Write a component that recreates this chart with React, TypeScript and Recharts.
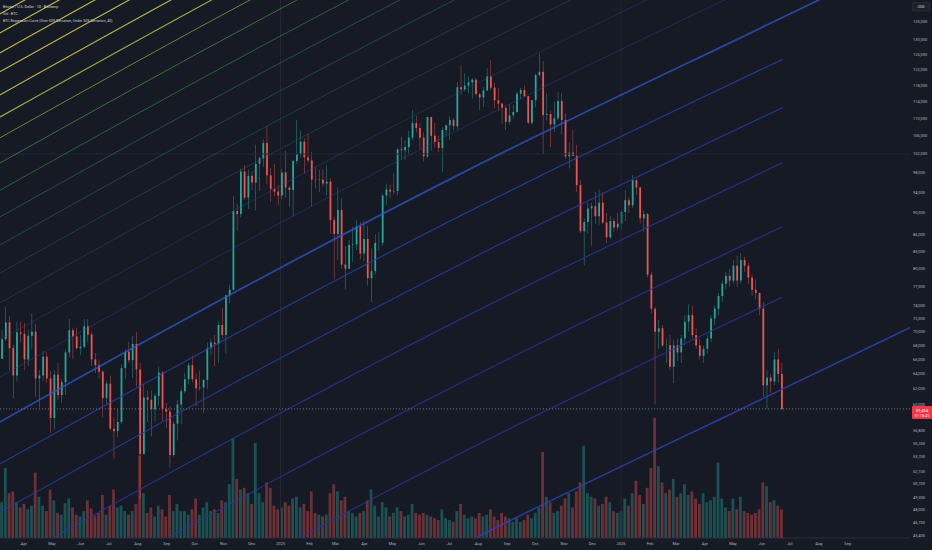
import React from "react";
import { ComposedChart, Bar, Line, XAxis, YAxis, Cell, ReferenceLine } from "recharts";

document.body.style.margin = "0";
document.body.style.background = "#161a25";

// BTC/USD (Bitstamp) grouped in 4-day candles, prices in thousand USD
const candleStart = "2024-03-03";
const candleStep = 4;
const firstOpen = 62.0;

const highs = [
  69.2, 70.2, 73.8, 72.4, 68.1, 71.5, 71.5, 71.3, 70.3, 72.8,
  71.2, 64.5, 67.2, 67.1, 64.4, 64.5, 65.5, 63.4, 67.4, 71.9,
  70.6, 70.6, 69.5, 71.9, 71.9, 70.0, 66.9, 66.0, 64.5, 63.0,
  63.8, 58.4, 59.4, 65.3, 67.5, 68.5, 69.4, 70.0, 65.5, 62.7,
  61.8, 61.8, 61.4, 65.0, 64.4, 60.2, 59.8, 57.9, 60.6, 62.0,
  64.1, 65.5, 66.5, 64.1, 64.5, 63.3, 68.4, 69.0, 69.5, 71.6,
  73.6, 75.6, 77.3, 93.3, 91.8, 98.9, 99.6, 98.7, 98.4, 104.0,
  101.4, 105.2, 108.3, 99.0, 99.9, 95.5, 98.8, 102.7, 95.3, 100.7,
  109.6, 107.2, 105.4, 106.4, 102.5, 99.2, 98.6, 98.8, 99.5, 96.9,
  89.3, 95.0, 92.8, 84.0, 85.0, 87.4, 88.7, 88.3, 88.5, 87.5,
  83.5, 86.1, 86.4, 93.8, 95.8, 95.6, 97.9, 103.2, 105.8, 105.0,
  107.1, 111.9, 110.6, 108.9, 106.8, 110.5, 110.4, 108.9, 106.0, 108.0,
  108.5, 110.5, 110.0, 118.8, 123.2, 121.0, 120.2, 119.8, 119.8, 116.1,
  117.6, 122.3, 124.4, 118.6, 117.4, 113.6, 112.6, 113.4, 113.2, 116.3,
  117.3, 117.9, 115.4, 114.4, 121.0, 126.2, 124.2, 116.0, 111.8, 114.0,
  116.3, 116.0, 111.2, 104.5, 107.4, 104.0, 96.5, 89.0, 92.0, 92.0,
  94.1, 94.6, 94.0, 90.0, 89.5, 89.0, 90.0, 90.5, 94.5, 93.0,
  97.5, 96.8, 95.2, 90.5, 90.0, 79.5, 73.8, 71.8, 71.0, 69.0,
  69.5, 68.8, 69.0, 69.5, 72.5, 74.2, 74.0, 70.5, 69.0, 68.0,
  69.5, 72.5, 74.0, 76.0, 78.0, 79.5, 80.0, 81.5, 82.2, 82.7,
  82.0, 81.0, 79.0, 78.2, 76.0, 74.5, 64.5, 64.0, 67.0, 67.5,
  65.5,
];

const lows = [
  59.2, 66.1, 68.6, 64.5, 60.8, 63.0, 68.4, 64.5, 65.1, 67.5,
  61.0, 59.6, 63.1, 62.8, 56.5, 56.9, 60.6, 60.2, 61.2, 66.3,
  66.1, 67.4, 66.6, 67.6, 68.5, 65.1, 64.1, 63.4, 58.4, 60.0,
  56.8, 53.5, 56.0, 57.6, 63.3, 65.5, 63.5, 62.3, 49.1, 54.0,
  57.8, 56.1, 57.9, 59.8, 57.9, 57.1, 52.5, 53.7, 55.6, 57.5,
  61.4, 62.6, 62.9, 59.8, 61.8, 58.9, 62.0, 66.6, 65.1, 65.5,
  69.0, 66.8, 74.4, 76.4, 86.7, 89.2, 92.6, 90.8, 94.5, 90.5,
  94.3, 99.3, 95.6, 92.2, 93.3, 91.5, 92.7, 93.0, 91.2, 89.3,
  99.9, 101.2, 97.8, 100.2, 91.2, 94.8, 94.1, 95.2, 93.4, 86.1,
  78.2, 81.5, 80.0, 76.6, 80.0, 81.2, 83.2, 81.6, 81.3, 77.2,
  74.5, 79.0, 83.1, 84.0, 91.6, 92.9, 93.7, 93.4, 100.8, 100.7,
  102.0, 105.0, 106.8, 103.1, 100.4, 101.1, 102.7, 103.4, 102.4, 98.2,
  106.1, 105.1, 107.2, 107.5, 115.7, 116.5, 116.0, 114.7, 115.5, 112.0,
  112.7, 116.5, 116.8, 112.4, 111.7, 108.7, 107.3, 108.6, 110.0, 111.2,
  114.5, 115.1, 108.7, 108.6, 112.6, 120.0, 102.0, 109.5, 103.5, 106.9,
  109.6, 106.3, 101.0, 98.9, 101.5, 94.1, 86.3, 80.6, 86.1, 84.0,
  88.0, 87.8, 88.0, 84.5, 85.2, 86.5, 86.8, 87.0, 88.5, 90.0,
  91.0, 93.5, 88.0, 86.5, 78.5, 72.8, 60.0, 67.5, 67.8, 65.5,
  64.5, 62.8, 65.8, 65.5, 68.0, 70.0, 69.0, 67.5, 66.0, 65.5,
  66.8, 68.5, 71.0, 72.5, 74.5, 76.5, 77.0, 77.5, 77.0, 77.5,
  79.5, 77.5, 75.5, 75.0, 72.5, 61.0, 59.4, 61.5, 62.5, 62.8,
  59.3,
];

const closes = [
  66.1, 68.9, 71.4, 67.6, 63.8, 69.9, 69.7, 66.0, 69.4, 70.0,
  63.4, 63.8, 66.4, 63.4, 58.3, 63.9, 61.2, 62.9, 67.0, 70.2,
  69.3, 67.6, 67.8, 70.8, 69.6, 66.0, 65.2, 64.3, 60.8, 62.7,
  57.0, 56.7, 57.8, 64.8, 67.1, 65.9, 68.2, 64.6, 54.0, 60.9,
  60.6, 59.4, 61.1, 64.2, 59.4, 59.1, 53.9, 57.6, 60.0, 61.7,
  63.3, 65.2, 63.3, 62.1, 62.2, 63.2, 67.6, 68.4, 68.2, 71.0,
  69.5, 75.6, 76.5, 90.4, 89.8, 98.3, 93.0, 97.4, 96.0, 99.9,
  101.1, 104.4, 97.5, 94.7, 94.2, 93.4, 98.1, 95.0, 94.5, 100.5,
  102.0, 104.7, 101.3, 100.6, 96.6, 96.5, 96.6, 95.8, 96.2, 88.7,
  86.1, 90.6, 80.7, 80.0, 84.1, 84.2, 87.5, 82.6, 85.2, 78.4,
  79.6, 84.5, 84.5, 93.4, 94.6, 94.2, 94.3, 103.0, 102.8, 103.5,
  105.6, 108.9, 107.8, 105.6, 101.5, 110.3, 106.0, 104.6, 103.3, 107.3,
  108.4, 109.6, 108.2, 117.5, 117.0, 117.9, 118.7, 119.4, 115.8, 115.0,
  116.7, 120.2, 117.4, 114.3, 113.5, 112.5, 109.2, 110.7, 111.5, 115.9,
  116.8, 115.3, 109.0, 114.3, 120.6, 121.4, 110.8, 111.0, 108.6, 110.0,
  114.1, 109.6, 101.5, 102.3, 101.6, 95.5, 86.6, 88.3, 90.9, 91.3,
  89.4, 92.0, 88.2, 85.5, 88.5, 87.3, 88.0, 90.2, 92.5, 91.5,
  96.5, 95.0, 89.0, 89.8, 79.0, 73.5, 70.0, 70.5, 68.0, 68.0,
  65.0, 68.0, 67.0, 69.0, 71.5, 72.5, 69.5, 68.0, 66.5, 67.5,
  69.0, 72.0, 73.5, 75.5, 77.5, 78.8, 78.0, 80.5, 78.0, 81.5,
  80.5, 78.5, 76.5, 76.0, 73.5, 62.5, 63.5, 63.0, 66.0, 64.0,
  59.434,
];

// thousand BTC per 4-day candle
const volumes = [
  6.1, 4.0, 7.8, 5.0, 5.2, 4.0, 3.4, 3.8, 3.2, 3.6,
  7.3, 4.6, 3.6, 3.0, 5.4, 4.2, 2.8, 2.6, 3.9, 4.4,
  3.4, 2.6, 2.4, 3.0, 4.2, 3.3, 2.5, 2.8, 4.8, 2.6,
  3.6, 5.4, 3.4, 3.6, 3.0, 2.6, 3.0, 3.8, 9.2, 5.0,
  2.8, 3.4, 2.4, 3.6, 3.2, 2.4, 4.8, 3.0, 3.8, 3.0,
  3.0, 2.6, 3.2, 4.4, 2.6, 3.4, 4.0, 3.0, 3.2, 2.8,
  4.2, 4.0, 6.0, 11.1, 6.6, 5.4, 5.6, 5.0, 3.8, 10.6,
  5.0, 4.0, 6.2, 5.6, 3.6, 3.2, 3.4, 4.0, 3.6, 4.4,
  4.6, 3.4, 3.8, 3.0, 5.2, 2.8, 2.6, 2.4, 2.6, 5.0,
  6.0, 5.2, 4.2, 4.6, 3.0, 2.8, 2.4, 2.8, 3.0, 4.2,
  5.4, 3.6, 2.4, 4.0, 3.4, 2.4, 2.8, 3.4, 3.0, 2.4,
  2.6, 3.8, 2.8, 2.6, 2.8, 2.6, 2.4, 2.2, 2.0, 3.2,
  2.2, 2.0, 1.8, 3.0, 3.8, 2.6, 2.2, 2.4, 2.2, 2.8,
  2.4, 2.6, 3.2, 2.4, 2.0, 2.8, 2.4, 2.2, 1.8, 2.2,
  1.8, 2.0, 2.6, 2.2, 2.8, 3.4, 9.6, 4.6, 4.0, 2.8,
  3.0, 3.6, 4.4, 5.0, 3.4, 5.2, 6.2, 10.3, 5.0, 4.6,
  4.4, 3.6, 3.8, 4.6, 4.0, 3.0, 2.8, 3.0, 4.4, 3.6,
  5.0, 6.4, 4.8, 3.8, 5.6, 7.8, 13.4, 8.0, 6.2, 5.0,
  5.4, 6.6, 4.6, 5.0, 6.0, 4.8, 5.2, 4.4, 3.8, 5.0,
  4.0, 4.2, 4.6, 8.4, 4.4, 3.4, 3.0, 4.4, 3.2, 4.6,
  3.0, 2.8, 2.6, 2.8, 3.2, 6.2, 5.8, 4.0, 4.2, 3.6,
  3.2,
];

const monthTicks = [
  "2024-04-01", "2024-05-01", "2024-06-01", "2024-07-01", "2024-08-01", "2024-09-01",
  "2024-10-01", "2024-11-01", "2024-12-01", "2025-01-01", "2025-02-01", "2025-03-01",
  "2025-04-01", "2025-05-01", "2025-06-01", "2025-07-01", "2025-08-01", "2025-09-01",
  "2025-10-01", "2025-11-01", "2025-12-01", "2026-01-01", "2026-02-01", "2026-03-01",
  "2026-04-01", "2026-05-01", "2026-06-01", "2026-07-01", "2026-08-01", "2026-09-01",
];
const monthLabels = [
  "Apr", "May", "Jun", "Jul", "Aug", "Sep", "Oct", "Nov", "Dec", "2025", "Feb", "Mar",
  "Apr", "May", "Jun", "Jul", "Aug", "Sep", "Oct", "Nov", "Dec", "2026", "Feb", "Mar",
  "Apr", "May", "Jun", "Jul", "Aug", "Sep",
];

const priceTicks = [
  135000, 130000, 126000, 122000, 118000, 114000, 110000, 106000, 102000, 98000,
  94000, 90000, 86000, 83000, 80000, 77000, 74000, 72000, 70000, 68000, 66000,
  64000, 62000, 60000, 56800, 55200, 53700, 52100, 50700, 49300, 48000, 46700, 45400,
];

// regression curve read at a few dates, then the deviation bands as multiples of it
const regDates = ["2024-03-06", "2024-12-17", "2025-07-17", "2026-06-23", "2026-11-07"];
const regBase = [57800, 78900, 98200, 136200, 155200];
const overBands = [2.374, 2.28, 2.186, 2.1, 2.0, 1.908, 1.826, 1.731, 1.634, 1.544, 1.455, 1.371, 1.287, 1.19, 1.1];
const underBands = [0.915, 0.826, 0.735, 0.642, 0.553, 0.455];

const overColors = [
  "#cccb48", "#cccb48", "#c9c946", "#c6c745", "#c2c544", "#adc042", "#85b042", "#549c4c",
  "#3f8c57", "#367d60", "#307067", "#2d656f", "#2b5a78", "#2a5081", "#2a4a8c",
];
const overOpacity = [0.95, 0.95, 0.95, 0.95, 0.95, 0.9, 0.8, 0.7, 0.65, 0.6, 0.55, 0.5, 0.5, 0.45, 0.5];
const underColors = ["#2b3fa8", "#2a39a2", "#2a369e", "#2a349a", "#2a3398", "#3140b4"];

const BG = "#161a25";
const UP = "#26a69a";
const DOWN = "#ef5350";
const TEXT = "#b2b5be";
const FONT = "Roboto, 'DejaVu Sans', sans-serif";

const W = 932;
const H = 550;
const X_MIN = -300.7;
const X_MAX = 674.8;
const Y_MIN = 45213;
const Y_MAX = 141353;

const day = (s: string) => (Date.parse(s + "T00:00:00Z") - Date.parse("2025-01-01T00:00:00Z")) / 86400000;

const startDay = day(candleStart);
const candles = closes.map((c, i) => {
  const o = i === 0 ? firstOpen : closes[i - 1];
  const hi = Math.max(highs[i], o, c);
  const lo = Math.min(lows[i], o, c);
  return {
    t: startDay + i * candleStep + 1.5,
    wick: [lo * 1000, hi * 1000],
    body: [Math.min(o, c) * 1000, Math.max(o, c) * 1000],
    up: c >= o,
    vol: volumes[i],
  };
});
const lastPrice = closes[closes.length - 1] * 1000;

const regLine = (mult: number, points: number) =>
  regDates.slice(0, points).map((d, k) => ({ t: day(d), v: regBase[k] * mult }));

const tickDays = monthTicks.map(day);
const monthLabel = (v: number) => monthLabels[tickDays.indexOf(v)] ?? "";

const PriceTag = (props: any) => {
  const vb = props.viewBox || {};
  const x = vb.x + vb.width + 2;
  const y = vb.y;
  return (
    <g>
      <rect x={x} y={y - 3} width={20} height={13} fill="#f23645" rx={1} />
      <text x={x + 10} y={y + 2.6} fill="#ffffff" fontSize={4.2} fontFamily={FONT} textAnchor="middle">
        {lastPrice.toLocaleString("en-US", { maximumFractionDigits: 0 })}
      </text>
      <text x={x + 10} y={y + 7.8} fill="#ffe0e0" fontSize={3.8} fontFamily={FONT} textAnchor="middle">
        01:18:45
      </text>
    </g>
  );
};

export default function App() {
  return (
    <div style={{ position: "relative", width: W, height: H, background: BG, overflow: "hidden" }}>
      <ComposedChart width={W} height={H} data={candles} margin={{ top: 0, right: 0, left: 0, bottom: 0 }}>
        <XAxis
          xAxisId="x"
          type="number"
          dataKey="t"
          domain={[X_MIN, X_MAX]}
          allowDataOverflow
          ticks={tickDays}
          interval={0}
          tickFormatter={monthLabel}
          tick={{ fill: TEXT, fontSize: 4, fontFamily: FONT }}
          tickLine={false}
          tickSize={3}
          tickMargin={1}
          axisLine={{ stroke: "#2a2e39" }}
          height={12}
        />
        <XAxis xAxisId="xb" type="number" dataKey="t" domain={[X_MIN, X_MAX]} allowDataOverflow hide />
        <XAxis xAxisId="xv" type="number" dataKey="t" domain={[X_MIN, X_MAX]} allowDataOverflow hide />
        <YAxis
          yAxisId="price"
          orientation="right"
          scale="log"
          domain={[Y_MIN, Y_MAX]}
          allowDataOverflow
          ticks={priceTicks}
          interval={0}
          tickFormatter={(v: number) => v.toLocaleString("en-US")}
          tick={{ fill: TEXT, fontSize: 4, fontFamily: FONT }}
          tickLine={false}
          tickSize={1}
          tickMargin={2}
          axisLine={false}
          width={22}
        />
        <YAxis yAxisId="vol" domain={[0, 60]} hide />

        <ReferenceLine xAxisId="x" yAxisId="price" x={day("2025-01-01")} stroke="#232734" />
        <ReferenceLine xAxisId="x" yAxisId="price" x={day("2026-01-01")} stroke="#232734" />
        <ReferenceLine xAxisId="x" yAxisId="price" y={102000} stroke="#232734" />

        {overBands.map((m, i) => (
          <Line
            key={"o" + i}
            xAxisId="x"
            yAxisId="price"
            data={regLine(m, 4)}
            dataKey="v"
            type="monotone"
            stroke={overColors[i]}
            strokeWidth={i < 6 ? 1.1 : 0.9}
            strokeOpacity={overOpacity[i]}
            dot={false}
            activeDot={false}
            isAnimationActive={false}
          />
        ))}
        <Line
          xAxisId="x"
          yAxisId="price"
          data={regLine(1, 5)}
          dataKey="v"
          type="monotone"
          stroke="#2f57c8"
          strokeWidth={1.8}
          strokeOpacity={0.75}
          dot={false}
          activeDot={false}
          isAnimationActive={false}
        />
        {underBands.map((m, i) => (
          <Line
            key={"u" + i}
            xAxisId="x"
            yAxisId="price"
            data={regLine(m, i === underBands.length - 1 ? 5 : 4)}
            dataKey="v"
            type="monotone"
            stroke={underColors[i]}
            strokeWidth={i === underBands.length - 1 ? 1.5 : 1.1}
            strokeOpacity={0.85}
            dot={false}
            activeDot={false}
            isAnimationActive={false}
          />
        ))}

        <Bar xAxisId="xv" yAxisId="vol" dataKey="vol" barSize={2.8} activeBar={false} isAnimationActive={false}>
          {candles.map((c, i) => (
            <Cell key={i} fill={c.up ? UP : DOWN} fillOpacity={0.4} />
          ))}
        </Bar>
        <Bar xAxisId="x" yAxisId="price" dataKey="wick" barSize={0.7} activeBar={false} isAnimationActive={false}>
          {candles.map((c, i) => (
            <Cell key={i} fill={c.up ? UP : DOWN} />
          ))}
        </Bar>
        <Bar xAxisId="xb" yAxisId="price" dataKey="body" barSize={1.8} activeBar={false} isAnimationActive={false}>
          {candles.map((c, i) => (
            <Cell key={i} fill={c.up ? UP : DOWN} />
          ))}
        </Bar>

        <ReferenceLine
          xAxisId="x"
          yAxisId="price"
          y={lastPrice}
          stroke="#6d707b"
          strokeDasharray="1 2"
          label={<PriceTag />}
        />
      </ComposedChart>

      <svg width={W} height={H} style={{ position: "absolute", left: 0, top: 0, pointerEvents: "none" }}>
        <g fontFamily={FONT} fill="#d1d4dc">
          <text x={3} y={8.4} fontSize={3.6}>Bitcoin / U.S. Dollar · 1D · Bitstamp</text>
          <text x={3} y={15.4} fontSize={3.6}>Vol · BTC</text>
          <text x={3} y={22.4} fontSize={3.6}>BTC Regression Curve (Over 50% Deviation, Under 50% Deviation, 40)</text>
        </g>
        <rect x={912.5} y={2.5} width={17} height={8.5} fill="#1e222d" stroke="#363a45" strokeWidth={0.5} rx={1} />
        <text x={921} y={8.3} fontSize={3.8} fontFamily={FONT} fill="#d1d4dc" textAnchor="middle">USD</text>
      </svg>
    </div>
  );
}
